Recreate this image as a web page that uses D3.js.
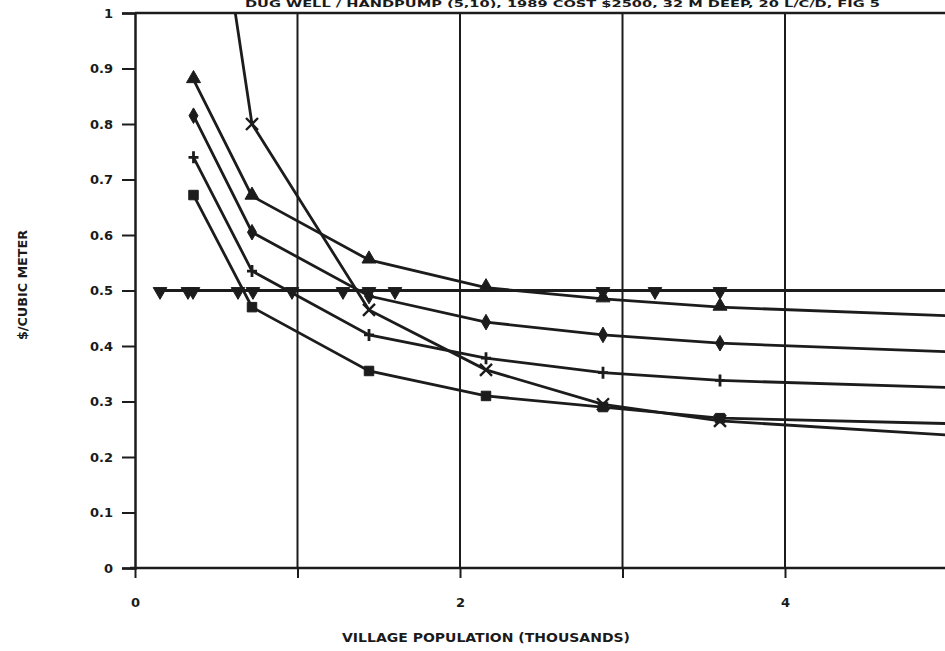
<!DOCTYPE html>
<html><head><meta charset="utf-8">
<script src="https://cdn.jsdelivr.net/npm/d3@7"></script>
<style>
html,body{margin:0;padding:0;background:#fff;}
svg{display:block;}
text{font-family:"DejaVu Sans",Arial,sans-serif;font-weight:bold;fill:#1a1a1a;}
</style></head>
<body>
<svg id="chart" width="945" height="651"></svg>
<script>
// ---- data (village population in thousands, $/cubic meter) ----
const popX = [0.36, 0.72, 1.44, 2.16, 2.88, 3.6, 7.2];
const triangleVals = [0.88, 0.67, 0.555, 0.505, 0.485, 0.47, 0.43];
const diamondVals  = [0.815, 0.605, 0.49, 0.443, 0.42, 0.405, 0.366];
const plusVals     = [0.74, 0.535, 0.42, 0.378, 0.352, 0.338, 0.305];
const squareVals   = [0.672, 0.47, 0.355, 0.31, 0.29, 0.27, 0.245];
const crossVals    = [1.5, 0.80, 0.465, 0.357, 0.295, 0.265, 0.20];
const invTriX      = [0.154, 0.326, 0.357, 0.634, 0.726, 0.966, 1.28, 1.44, 1.6, 2.88, 3.2, 3.6, 7.2];
const invTriVals   = [0.5, 0.5, 0.5, 0.5, 0.5, 0.5, 0.5, 0.5, 0.5, 0.5, 0.5, 0.5, 0.5];
const yTicks = [0, 0.1, 0.2, 0.3, 0.4, 0.5, 0.6, 0.7, 0.8, 0.9, 1];
const yTickLabels = ["0", "0.1", "0.2", "0.3", "0.4", "0.5", "0.6", "0.7", "0.8", "0.9", "1"];
const xTicks = [0, 1, 2, 3, 4];
const xTickLabels = ["0", "", "2", "", "4"];
const xTitle = "VILLAGE POPULATION (THOUSANDS)";
const yTitle = "$/CUBIC METER";
const topTitle = "DUG WELL / HANDPUMP (5,10), 1989 COST $2500, 32 M DEEP, 20 L/C/D, FIG 5";

const series = [
  {name:"triangle", xs:popX, ys:triangleVals, sym:"triangle"},
  {name:"diamond", xs:popX, ys:diamondVals, sym:"diamond"},
  {name:"plus", xs:popX, ys:plusVals, sym:"plus"},
  {name:"square", xs:popX, ys:squareVals, sym:"square"},
  {name:"cross", xs:popX, ys:crossVals, sym:"cross"},
  {name:"invtri", xs:invTriX, ys:invTriVals, sym:"invtri"}
];

const svg = d3.select("#chart");
const W = 945, H = 651;
const mLeft = 135, mTop = 13, mBottom = 568;
const x = d3.scaleLinear().domain([0, 1]).range([mLeft, mLeft + 162.5]);
const y = d3.scaleLinear().domain([0, 1]).range([mBottom, mTop]);
const ink = "#1c1c1c";

svg.append("defs").append("clipPath").attr("id","plot")
  .append("rect").attr("x", mLeft).attr("y", mTop).attr("width", W - mLeft).attr("height", mBottom - mTop);

// top title (thin strip at the page top)
svg.append("text").attr("x", 245).attr("y", 7)
  .attr("textLength", 635).attr("lengthAdjust", "spacingAndGlyphs")
  .style("font-size","8px").text(topTitle);

// vertical grid lines
svg.append("g").selectAll("line").data(xTicks.filter(d => d > 0)).join("line")
  .attr("x1", d => x(d)).attr("x2", d => x(d)).attr("y1", y(1)).attr("y2", y(0))
  .attr("stroke", ink).attr("stroke-width", 2);

// top border at y=1
svg.append("line").attr("x1", mLeft).attr("x2", W).attr("y1", y(1)).attr("y2", y(1))
  .attr("stroke", ink).attr("stroke-width", 2.5);

// y axis
const yAxis = d3.axisLeft(y).tickValues(yTicks).tickSize(13).tickPadding(9)
  .tickFormat((d,i) => yTickLabels[i]);
const gy = svg.append("g").attr("transform", `translate(${mLeft},0)`).call(yAxis);
gy.select(".domain").attr("stroke", ink).attr("stroke-width", 2.5);
gy.selectAll(".tick line").attr("stroke", ink).attr("stroke-width", 2);
gy.selectAll(".tick text").style("font-size","13px").style("font-family","DejaVu Sans, sans-serif").attr("fill", ink);

// x axis
const xAxis = d3.axisBottom(x).tickValues(xTicks).tickSize(10).tickPadding(20)
  .tickFormat((d,i) => xTickLabels[i]);
const gx = svg.append("g").attr("transform", `translate(0,${mBottom})`).call(xAxis);
gx.select(".domain").remove();
gx.append("line").attr("x1", mLeft - 5).attr("x2", W).attr("y1", 0).attr("y2", 0)
  .attr("stroke", ink).attr("stroke-width", 2.5);
gx.selectAll(".tick line").attr("stroke", ink).attr("stroke-width", 2);
gx.selectAll(".tick text").style("font-size","13px").style("font-family","DejaVu Sans, sans-serif").attr("fill", ink);

// axis titles
svg.append("text").attr("x", 342).attr("y", 642)
  .attr("textLength", 288).attr("lengthAdjust", "spacingAndGlyphs")
  .style("font-size","12px").text(xTitle);
svg.append("text").attr("transform","translate(27,340) rotate(-90)")
  .attr("textLength", 110).attr("lengthAdjust", "spacingAndGlyphs")
  .style("font-size","12px").text(yTitle);

// series lines
const plot = svg.append("g").attr("clip-path","url(#plot)");
const line = d3.line().x(d => x(d[0])).y(d => y(d[1]));
series.forEach(s => {
  const pts = s.xs.map((v,i) => [v, s.ys[i]]);
  plot.append("path").datum(pts).attr("d", line)
    .attr("fill","none").attr("stroke", ink).attr("stroke-width", 2.8);
});

// markers
const symPath = {
  triangle: d3.symbol().type(d3.symbolTriangle).size(85)(),
  diamond: d3.symbol().type(d3.symbolDiamond).size(70)(),
  square: d3.symbol().type(d3.symbolSquare).size(90)(),
  invtri: d3.symbol().type(d3.symbolTriangle).size(80)()
};
series.forEach(s => {
  const pts = s.xs.map((v,i) => [v, s.ys[i]]).filter(p => x(p[0]) < W && p[1] <= 1);
  const g = plot.append("g");
  pts.forEach(p => {
    const px = x(p[0]), py = y(p[1]);
    if (s.sym === "plus") {
      g.append("path").attr("d", `M${px-5},${py}H${px+5}M${px},${py-6}V${py+6}`)
        .attr("stroke", ink).attr("stroke-width", 2.8);
    } else if (s.sym === "cross") {
      g.append("path").attr("d", `M${px-6},${py-6}L${px+6},${py+6}M${px+6},${py-6}L${px-6},${py+6}`)
        .attr("stroke", ink).attr("stroke-width", 2.4);
    } else {
      const rot = s.sym === "invtri" ? 180 : 0;
      const dy = s.sym === "invtri" ? 1 : (s.sym === "triangle" ? -1 : 0);
      g.append("path").attr("d", symPath[s.sym])
        .attr("transform", `translate(${px},${py+dy}) rotate(${rot})`)
        .attr("fill", ink).attr("stroke", ink).attr("stroke-width", 1);
    }
  });
});
</script>
</body></html>
